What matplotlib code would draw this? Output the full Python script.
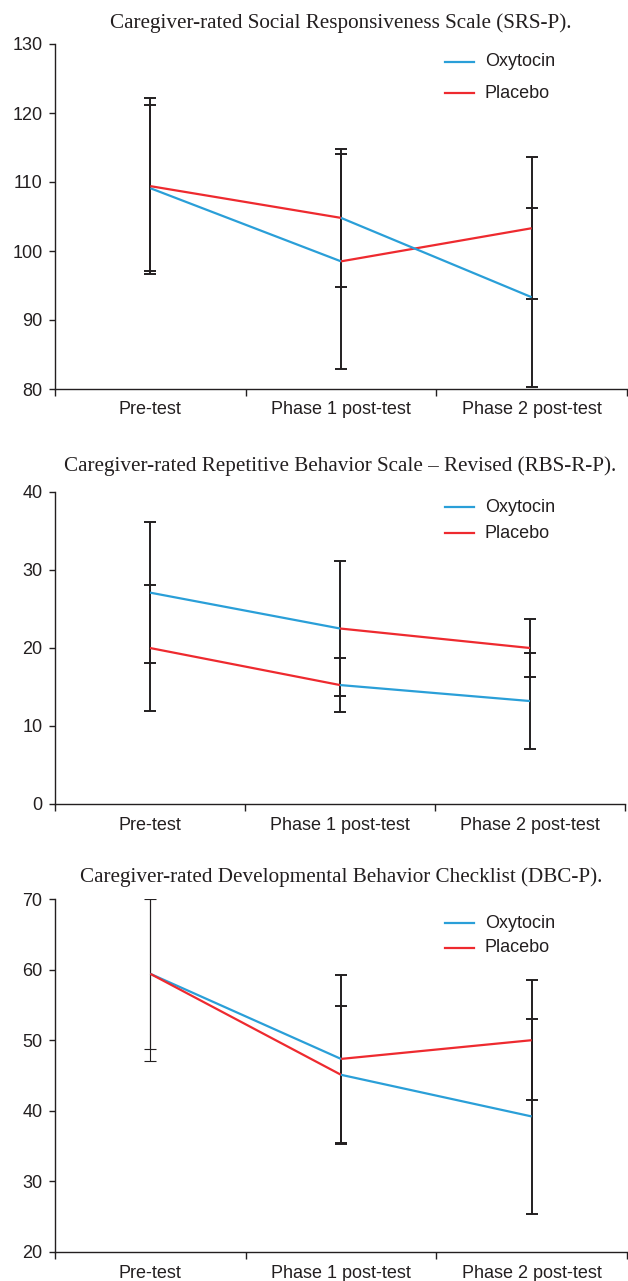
import matplotlib
matplotlib.use("Agg")
import matplotlib.pyplot as plt
from matplotlib.lines import Line2D
import numpy as np

# ---- data ----
categories = ["Pre-test", "Phase 1 post-test", "Phase 2 post-test"]
titles = [
    "Caregiver-rated Social Responsiveness Scale (SRS-P).",
    "Caregiver-rated Repetitive Behavior Scale \u2013 Revised (RBS-R-P).",
    "Caregiver-rated Developmental Behavior Checklist (DBC-P).",
]
# Group A: oxytocin in phase 1, placebo in phase 2
# Group B: placebo in phase 1, oxytocin in phase 2
srs_a = [109.1, 98.5, 103.3]
srs_a_sd = [12.0, 15.6, 10.3]
srs_b = [109.4, 104.8, 93.3]
srs_b_sd = [12.8, 10.05, 13.0]

rbs_a = [27.1, 22.5, 20.0]
rbs_a_sd = [9.0, 8.6, 3.76]
rbs_b = [20.0, 15.25, 13.2]
rbs_b_sd = [8.1, 3.5, 6.1]

dbc_a = [59.4, 47.35, 50.0]
dbc_a_sd = [10.6, 11.95, 8.5]
dbc_b = [59.4, 45.1, 39.2]
dbc_b_sd = [12.4, 9.8, 13.8]

ylims = [(80, 130), (0, 40), (20, 70)]
yticks = [[80, 90, 100, 110, 120, 130], [0, 10, 20, 30, 40], [20, 30, 40, 50, 60, 70]]
legend_labels = ["Oxytocin", "Placebo"]

BLUE = "#2a9fd8"
RED = "#ee2a2f"
INK = "#231f20"

panels = [
    (srs_a, srs_a_sd, srs_b, srs_b_sd),
    (rbs_a, rbs_a_sd, rbs_b, rbs_b_sd),
    (dbc_a, dbc_a_sd, dbc_b, dbc_b_sd),
]

W, H = 628, 1281
fig = plt.figure(figsize=(W / 100, H / 100), dpi=100)

# axes boxes in pixels: left, right, top, bottom
boxes = [(55, 627, 44, 389), (55, 625, 492, 804), (55, 627, 899, 1252)]
title_y = [23, 466, 877]
legend_rows = [(62, 93), (507, 533), (923, 948)]
pre_lw = [1.4, 1.4, 0.8]

sans = ["Liberation Sans", "DejaVu Sans"]
serif = ["Liberation Serif", "DejaVu Serif"]

for i, (a, asd, b, bsd) in enumerate(panels):
    l, r, t, btm = boxes[i]
    ax = fig.add_axes([l / W, 1 - btm / H, (r - l) / W, (btm - t) / H])
    x = np.arange(len(categories))

    # error bars
    for vals, sds in ((a, asd), (b, bsd)):
        for j in range(len(categories)):
            lw = pre_lw[i] if j == 0 else 1.4
            ax.errorbar(x[j], vals[j], yerr=sds[j], fmt="none", ecolor=INK,
                        elinewidth=lw, capsize=4.5, capthick=lw, zorder=2)

    # group lines coloured by treatment per phase
    ax.plot(x[0:2], a[0:2], color=BLUE, lw=1.6, zorder=3, solid_capstyle="butt")
    ax.plot(x[1:3], a[1:3], color=RED, lw=1.6, zorder=3, solid_capstyle="butt")
    ax.plot(x[0:2], b[0:2], color=RED, lw=1.6, zorder=3, solid_capstyle="butt")
    ax.plot(x[1:3], b[1:3], color=BLUE, lw=1.6, zorder=3, solid_capstyle="butt")

    ax.set_xlim(-0.5, 2.5)
    ax.set_ylim(*ylims[i])
    ax.set_yticks(yticks[i])
    ax.set_yticklabels([str(v) for v in yticks[i]], family=sans, fontsize=13, color=INK)
    ax.set_xticks([-0.5, 0.5, 1.5, 2.5])
    ax.set_xticklabels([])
    ax.set_xticks(x, minor=True)
    ax.set_xticklabels(categories, minor=True, family=sans, fontsize=13, color=INK)
    ax.tick_params(axis="x", which="minor", length=0, pad=9)
    ax.tick_params(axis="x", which="major", length=5, width=1, color=INK, direction="out")
    ax.tick_params(axis="y", length=4, width=1, color=INK, direction="out", pad=5)
    for s in ("top", "right"):
        ax.spines[s].set_visible(False)
    for s in ("left", "bottom"):
        ax.spines[s].set_color(INK)
        ax.spines[s].set_linewidth(1.0)
    ax.patch.set_alpha(0)

    fig.text(((l + r) / 2) / W, 1 - title_y[i] / H, titles[i], ha="center", va="center",
             family=serif, fontsize=15.2, color=INK)

    # legend drawn as figure text/lines
    for k, (lab, col) in enumerate(zip(legend_labels, [BLUE, RED])):
        yy = 1 - legend_rows[i][k] / H
        fig.add_artist(Line2D([445 / W, 474 / W], [yy, yy], color=col, lw=1.6))
        fig.text(485 / W, yy, lab, ha="left", va="center", family=sans,
                 fontsize=13, color=INK)

fig.savefig("out.png", dpi=100)
